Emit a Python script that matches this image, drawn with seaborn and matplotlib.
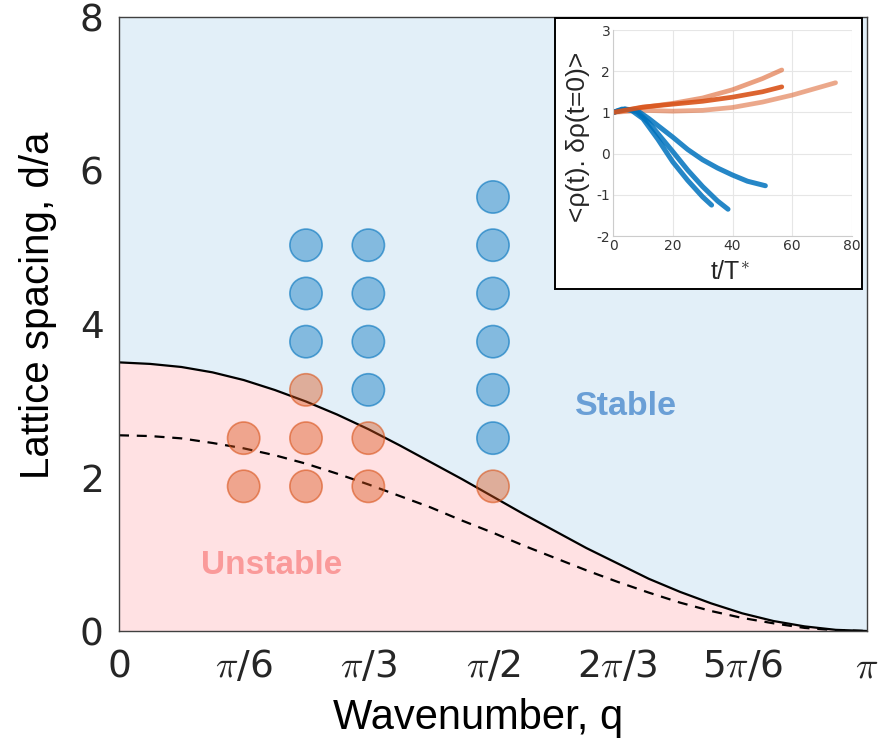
import numpy as np
import pandas as pd
import matplotlib
matplotlib.use("Agg")
import matplotlib.pyplot as plt
import seaborn as sns
from matplotlib.patches import Rectangle

# ---------------- data ----------------
# stability boundary curves sampled at q = k*pi/24 (k = 0..24)
q_curve = np.pi * np.arange(25) / 24
d_solid = [3.50, 3.48, 3.44, 3.37, 3.27, 3.14, 2.99, 2.82, 2.63, 2.42, 2.20, 1.98,
           1.75, 1.52, 1.30, 1.08, 0.88, 0.68, 0.51, 0.36, 0.23, 0.13, 0.06, 0.015, 0.0]
d_dashed = [2.55, 2.54, 2.51, 2.45, 2.38, 2.29, 2.18, 2.05, 1.91, 1.76, 1.61, 1.44,
            1.28, 1.11, 0.95, 0.79, 0.64, 0.50, 0.37, 0.26, 0.17, 0.10, 0.04, 0.01, 0.0]

# simulated lattice points
pts_q = [np.pi/6]*2 + [np.pi/4]*6 + [np.pi/3]*6 + [np.pi/2]*7
pts_d = [1.885, 2.513,
         1.885, 2.513, 3.142, 3.770, 4.398, 5.027,
         1.885, 2.513, 3.142, 3.770, 4.398, 5.027,
         1.885, 2.513, 3.142, 3.770, 4.398, 5.027, 5.655]
pts_state = ["U", "U",
             "U", "U", "U", "S", "S", "S",
             "U", "U", "S", "S", "S", "S",
             "U", "S", "S", "S", "S", "S", "S"]

x_ticks = [0, np.pi/6, np.pi/3, np.pi/2, 2*np.pi/3, 5*np.pi/6, np.pi]
x_ticklabels = ["0", r"$\pi$/6", r"$\pi$/3", r"$\pi$/2", r"2$\pi$/3", r"5$\pi$/6", r"$\pi$"]
y_ticks = [0, 2, 4, 6, 8]

# inset curves: correlation vs time
blue1_t = [0, 3, 6, 10, 15, 20, 25, 30, 33]
blue1_y = [1.0, 1.08, 1.06, 0.85, 0.35, -0.2, -0.65, -1.05, -1.25]
blue2_t = [0, 4, 8, 12, 20, 25, 30, 35, 38.5]
blue2_y = [1.0, 1.08, 1.02, 0.75, 0.05, -0.4, -0.8, -1.15, -1.35]
blue3_t = [0, 4, 8, 12, 20, 25, 30, 35, 40, 45, 51]
blue3_y = [1.0, 1.08, 1.05, 0.85, 0.4, 0.1, -0.15, -0.35, -0.52, -0.67, -0.78]
orl1_t = [0, 10, 20, 30, 40, 50, 56.5]
orl1_y = [1.0, 1.12, 1.22, 1.35, 1.55, 1.82, 2.03]
ord_t = [0, 10, 20, 30, 40, 50, 56.5]
ord_y = [1.0, 1.13, 1.2, 1.27, 1.37, 1.5, 1.62]
orl2_t = [0, 10, 20, 30, 40, 50, 60, 74.5]
orl2_y = [1.0, 1.05, 1.03, 1.05, 1.12, 1.25, 1.42, 1.72]

# ---------------- style ----------------
sns.set_style("white")
plt.rcParams["font.family"] = ["DejaVu Sans"]
plt.rcParams["mathtext.fontset"] = "cm"
plt.rcParams["axes.unicode_minus"] = False
LAB = ["Liberation Sans", "DejaVu Sans"]

fig = plt.figure(figsize=(8.81, 7.49), dpi=100)
ax = fig.add_axes([119/881, 1 - 631/749, (867-119)/881, (631-17)/749])

BLUE_BG = "#e2eff8"
PINK_BG = "#ffe1e3"

ax.fill_between(q_curve, d_solid, 8, color=BLUE_BG, lw=0, zorder=0)
ax.fill_between(q_curve, 0, d_solid, color=PINK_BG, lw=0, zorder=0)

sns.lineplot(x=q_curve, y=d_solid, ax=ax, color="black", lw=1.6, zorder=2)
sns.lineplot(x=q_curve, y=d_dashed, ax=ax, color="black", lw=1.6, zorder=2,
             linestyle=(0, (4.5, 3.5)))

df = pd.DataFrame({"q": pts_q, "d": pts_d, "state": pts_state})
for st, fc, ec in [("S", "#0072bd", "#0072bd"), ("U", "#d95319", "#d95319")]:
    sub = df[df.state == st]
    sns.scatterplot(data=sub, x="q", y="d", ax=ax, s=540, color=fc, alpha=0.42,
                    edgecolor="none", zorder=3, legend=False)
    sns.scatterplot(data=sub, x="q", y="d", ax=ax, s=540, facecolor="none",
                    edgecolor=ec, linewidth=1.2, alpha=0.6, zorder=4, legend=False)

ax.text(2.13, 2.92, "Stable", color="#6a9fd6", fontsize=24.5,
        fontweight="bold", ha="center", va="center", zorder=5, family=LAB)
ax.text(0.643, 0.85, "Unstable", color="#fa9a9a", fontsize=24,
        fontweight="bold", ha="center", va="center", zorder=5, family=LAB)

ax.set_xlim(0, np.pi)
ax.set_ylim(0, 8)
ax.set_xticks(x_ticks)
ax.set_xticklabels(x_ticklabels)
ax.set_yticks(y_ticks)
ax.tick_params(axis="both", direction="in", length=6, width=0.8, color="#404040",
               labelsize=27, labelcolor="#262626", pad=11)
ax.tick_params(axis="x", pad=13)
for sp in ax.spines.values():
    sp.set_color("#404040")
    sp.set_linewidth(1.0)
    sp.set_zorder(6)
ax.set_xlabel("Wavenumber, q", fontsize=30, color="black", family=LAB)
ax.set_ylabel("Lattice spacing, d/a", fontsize=29, color="black", family=LAB)
ax.xaxis.set_label_coords(0.48, -0.142)
ax.xaxis.label.set_va("center")
ax.yaxis.set_label_coords(-0.108, 0.531)
ax.yaxis.label.set_va("center")

# ---------------- inset ----------------
box = Rectangle((555/881, 1 - 289/749), (862-555)/881, (289-18)/749,
                transform=fig.transFigure, facecolor="white", edgecolor="black",
                lw=1.4, zorder=10)
fig.patches.append(box)

ins = fig.add_axes([613/881, 1 - 236/749, (852-613)/881, (236-30)/749])
ins.set_zorder(11)
ins.set_facecolor("white")

sns.lineplot(x=orl1_t, y=orl1_y, ax=ins, color="#d95319", lw=3.4, alpha=0.55, sort=False)
sns.lineplot(x=orl2_t, y=orl2_y, ax=ins, color="#d95319", lw=3.4, alpha=0.5, sort=False)
sns.lineplot(x=blue3_t, y=blue3_y, ax=ins, color="#0072bd", lw=3.6, alpha=0.85, sort=False)
sns.lineplot(x=blue2_t, y=blue2_y, ax=ins, color="#0072bd", lw=3.6, alpha=0.85, sort=False)
sns.lineplot(x=blue1_t, y=blue1_y, ax=ins, color="#0072bd", lw=3.6, alpha=0.85, sort=False)
sns.lineplot(x=ord_t, y=ord_y, ax=ins, color="#d95319", lw=3.4, alpha=0.9, sort=False)

ins.set_xlim(0, 80)
ins.set_ylim(-2, 3)
ins.set_xticks([0, 20, 40, 60, 80])
ins.set_yticks([-2, -1, 0, 1, 2, 3])
ins.grid(True, color="#e6e6e6", lw=0.8)
ins.tick_params(axis="both", direction="in", length=3, color="#aaaaaa",
                labelsize=10, labelcolor="#333333", pad=2)
for sp in ["top", "right"]:
    ins.spines[sp].set_visible(False)
for sp in ["left", "bottom"]:
    ins.spines[sp].set_color("#cccccc")
    ins.spines[sp].set_linewidth(0.8)
ins.set_xlabel(r"t/T$^{*}$", fontsize=18, family=LAB)
ins.set_ylabel("<ρ(t). δρ(t=0)>", fontsize=19, family=LAB)
ins.xaxis.set_label_coords(0.49, -0.175)
ins.xaxis.label.set_va("center")
ins.yaxis.set_label_coords(-0.146, 0.48)
ins.yaxis.label.set_va("center")

fig.savefig("out.png", dpi=100)
